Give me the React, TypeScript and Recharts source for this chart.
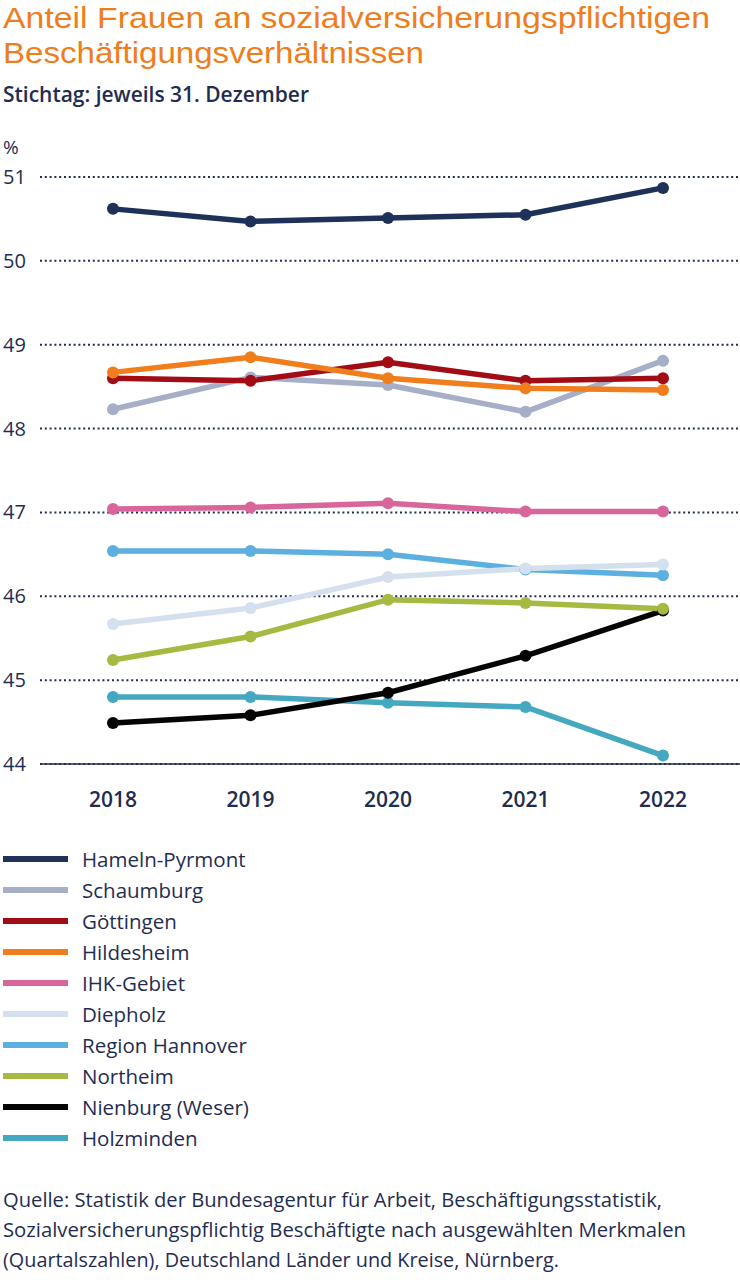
import { CartesianGrid, Line, LineChart, XAxis, YAxis } from "recharts";

const years = ["2018", "2019", "2020", "2021", "2022"];
const hamelnPyrmont = [50.62, 50.47, 50.51, 50.55, 50.87];
const schaumburg = [48.23, 48.61, 48.52, 48.2, 48.81];
const goettingen = [48.6, 48.57, 48.79, 48.57, 48.6];
const hildesheim = [48.67, 48.85, 48.6, 48.48, 48.46];
const ihkGebiet = [47.04, 47.06, 47.11, 47.01, 47.01];
const diepholz = [45.67, 45.86, 46.23, 46.33, 46.38];
const regionHannover = [46.54, 46.54, 46.5, 46.32, 46.25];
const northeim = [45.24, 45.52, 45.96, 45.92, 45.85];
const nienburg = [44.49, 44.58, 44.85, 45.29, 45.83];
const holzminden = [44.8, 44.8, 44.73, 44.68, 44.1];
const yTicks = [44, 45, 46, 47, 48, 49, 50, 51];

const title = ["Anteil Frauen an sozialversicherungspflichtigen", "Beschäftigungsverhältnissen"];
const subtitle = "Stichtag: jeweils 31. Dezember";
const source = [
  "Quelle: Statistik der Bundesagentur für Arbeit, Beschäftigungsstatistik,",
  "Sozialversicherungspflichtig Beschäftigte nach ausgewählten Merkmalen",
  "(Quartalszahlen), Deutschland Länder und Kreise, Nürnberg.",
];

const NAVY = "#1f2d52";
const ORANGE = "#ef7d1b";
const FONT = "'Open Sans', sans-serif";
const TITLE_FONT = "'Liberation Sans', Arial, sans-serif";

// Reihenfolge wie in der Legende
const series = [
  { key: "hameln", name: "Hameln-Pyrmont", color: "#1e3159", values: hamelnPyrmont },
  { key: "schaumburg", name: "Schaumburg", color: "#a6aec8", values: schaumburg },
  { key: "goettingen", name: "Göttingen", color: "#a20c14", values: goettingen },
  { key: "hildesheim", name: "Hildesheim", color: "#f07e1c", values: hildesheim },
  { key: "ihk", name: "IHK-Gebiet", color: "#d9669b", values: ihkGebiet },
  { key: "diepholz", name: "Diepholz", color: "#d5e0ee", values: diepholz },
  { key: "hannover", name: "Region Hannover", color: "#5dafe0", values: regionHannover },
  { key: "northeim", name: "Northeim", color: "#a6b941", values: northeim },
  { key: "nienburg", name: "Nienburg (Weser)", color: "#050505", values: nienburg },
  { key: "holzminden", name: "Holzminden", color: "#44a8c0", values: holzminden },
];

// Zeichenreihenfolge (spätere liegen oben)
const drawOrder = ["holzminden", "nienburg", "northeim", "hannover", "diepholz", "ihk", "schaumburg", "goettingen", "hildesheim", "hameln"];

const data = years.map((year, i) => {
  const row: Record<string, string | number> = { year };
  series.forEach((s) => (row[s.key] = s.values[i]));
  return row;
});

const YTick = ({ y, payload }: any) => (
  <text x={3} y={y} dy={7} fill={NAVY} fontSize={20} fontWeight={500} fontFamily={FONT}>
    {payload.value}
  </text>
);

const XTick = ({ x, y, payload }: any) => (
  <text x={x} y={y} dy={43} textAnchor="middle" fill={NAVY} fontSize={21} fontWeight={600} fontFamily={FONT}>
    {payload.value}
  </text>
);

// schmale Schrift im Original -> Zeilen auf feste Breite bringen
const fit = (text: string, y: number, width: number, size: number, color: string, weight = 400, family = FONT) => (
  <text
    key={text}
    x={3}
    y={y}
    textLength={width}
    lengthAdjust="spacingAndGlyphs"
    fill={color}
    fontSize={size}
    fontWeight={weight}
    fontFamily={family}
  >
    {text}
  </text>
);

export default function App() {
  return (
    <div style={{ position: "absolute", left: 0, top: 0, width: 740, height: 1280, background: "#fff", overflow: "hidden", fontFamily: FONT }}>
      <svg width={740} height={115} style={{ position: "absolute", left: 0, top: 0 }}>
        {fit(title[0], 28, 707, 30, ORANGE, 400, TITLE_FONT)}
        {fit(title[1], 63, 421, 30, ORANGE, 400, TITLE_FONT)}
        {fit(subtitle, 102, 306, 21, NAVY, 600)}
      </svg>

      <div style={{ position: "absolute", left: 3, top: 136, fontSize: 19, color: NAVY, lineHeight: "22px" }}>%</div>

      <div style={{ position: "absolute", left: 0, top: 0 }}>
        <LineChart width={740} height={830} data={data} margin={{ top: 177, right: 0, bottom: 0, left: 0 }}>
          <CartesianGrid vertical={false} stroke={NAVY} strokeWidth={2} strokeDasharray="2 2.8" />
          <XAxis
            dataKey="year"
            height={66}
            padding={{ left: 73, right: 77 }}
            axisLine={{ stroke: NAVY, strokeWidth: 1.5 }}
            tickLine={false}
            tickSize={0}
            tickMargin={0}
            tick={XTick}
          />
          <YAxis
            type="number"
            width={40}
            domain={[44, 51]}
            ticks={yTicks}
            axisLine={false}
            tickLine={false}
            tickSize={0}
            tick={YTick}
          />
          {drawOrder.map((k) => {
            const s = series.find((x) => x.key === k)!;
            return (
              <Line
                key={s.key}
                type="linear"
                dataKey={s.key}
                name={s.name}
                stroke={s.color}
                strokeWidth={5.5}
                dot={{ r: 6, fill: s.color, stroke: s.color, strokeWidth: 0 }}
                activeDot={false}
                isAnimationActive={false}
              />
            );
          })}
        </LineChart>
      </div>

      {series.map((s, i) => (
        <div
          key={s.key}
          style={{ position: "absolute", left: 3, top: 844 + i * 31, height: 30, display: "flex", alignItems: "center" }}
        >
          <div style={{ width: 65, height: 6, background: s.color }} />
          <span style={{ marginLeft: 14, fontSize: 20.5, color: NAVY, lineHeight: "30px" }}>{s.name}</span>
        </div>
      ))}

      <svg width={740} height={96} style={{ position: "absolute", left: 0, top: 1184 }}>
        {fit(source[0], 23, 659, 20, NAVY)}
        {fit(source[1], 53, 683, 20, NAVY)}
        {fit(source[2], 83, 556, 20, NAVY)}
      </svg>
    </div>
  );
}
